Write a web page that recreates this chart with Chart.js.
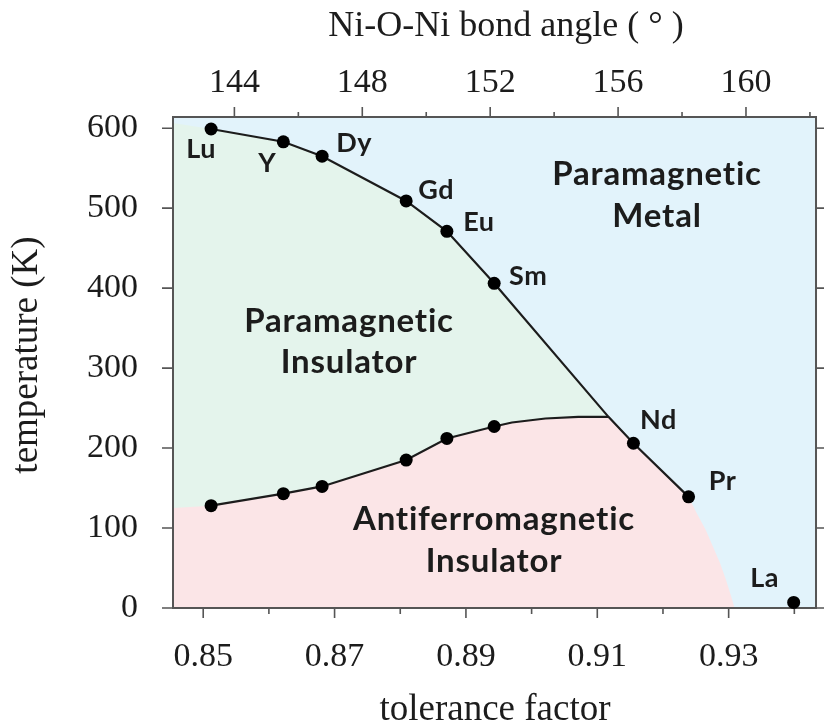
<!DOCTYPE html>
<html>
<head>
<meta charset="utf-8">
<script src="https://cdn.jsdelivr.net/npm/chart.js@4"></script>
<style>
  html, body { margin: 0; padding: 0; background: #ffffff; overflow: hidden; }
  #wrap { width: 824px; height: 725px; position: relative; }
</style>
</head>
<body>
<div id="wrap"><canvas id="c"></canvas></div>
<script>
// ---- data ----
const compounds   = ['Lu', 'Y', 'Dy', 'Gd', 'Eu', 'Sm', 'Nd', 'Pr', 'La'];
const tolerance   = [0.8512, 0.8622, 0.8681, 0.8809, 0.8871, 0.8943, 0.9155, 0.9239, 0.9399];
const tMI         = [599, 583, 565, 509, 471, 406, 206, 139, 7];      // metal-insulator transition
const tN          = [128, 143, 152, 185, 212, 227];                   // Neel temperature (Lu..Sm)
const crossTol    = 0.9117;  const crossT = 239;                      // where T_N meets T_MI
const neelTailTol = [0.8970, 0.9021, 0.9071];
const neelTailT   = [232, 237, 239];
const afiEdgeTol  = [0.9251, 0.9265, 0.9276, 0.9287, 0.9296, 0.9304, 0.9309];
const afiEdgeT    = [119, 98, 77, 56, 35, 14, 0];
const edgeTol     = 0.845;   const edgeUpperT = 607;  const edgeLowerT = 125;
const tolTicks    = [0.85, 0.87, 0.89, 0.91, 0.93];
const angleTicks  = [144, 148, 152, 156, 160];
const tempTicks   = [0, 100, 200, 300, 400, 500, 600];

// ---- styles ----
const SERIF = '"Liberation Serif", "Times New Roman", serif';
const SANS  = 'Lato, "Open Sans", sans-serif';
const BLUE  = 'rgb(226,243,251)';
const GREEN = 'rgb(228,244,236)';
const PINK  = 'rgb(251,229,231)';
const INK   = '#1c1c1c';
const FRAME = '#555555';

// ---- build series ----
const upperLine = [];
for (let i = 0; i <= 5; i++) upperLine.push({x: tolerance[i], y: tMI[i]});
upperLine.push({x: crossTol, y: crossT});
for (let i = 6; i <= 7; i++) upperLine.push({x: tolerance[i], y: tMI[i]});
const upperRadii = upperLine.map(p => (p.x === crossTol ? 0 : 6.5));

const lowerLine = [];
for (let i = 0; i < tN.length; i++) lowerLine.push({x: tolerance[i], y: tN[i]});
neelTailTol.forEach((t, i) => lowerLine.push({x: t, y: neelTailT[i]}));
lowerLine.push({x: crossTol, y: crossT});
const lowerRadii = lowerLine.map((p, i) => (i < tN.length ? 6.5 : 0));

const greenFill = [{x: edgeTol, y: edgeUpperT}];
for (let i = 0; i <= 5; i++) greenFill.push({x: tolerance[i], y: tMI[i]});
greenFill.push({x: crossTol, y: crossT});

const pinkFill = [{x: edgeTol, y: edgeLowerT}];
for (let i = 0; i < tN.length; i++) pinkFill.push({x: tolerance[i], y: tN[i]});
neelTailTol.forEach((t, i) => pinkFill.push({x: t, y: neelTailT[i]}));
pinkFill.push({x: crossTol, y: crossT});
for (let i = 6; i <= 7; i++) pinkFill.push({x: tolerance[i], y: tMI[i]});
afiEdgeTol.forEach((t, i) => pinkFill.push({x: t, y: afiEdgeT[i]}));

const laPoint = [{x: tolerance[8], y: tMI[8]}];

// ---- decorations ----
const labelOffsets = [[-10, 29], [-16, 30], [32, -4], [30, -2], [32, 0], [34, 2], [25, -14], [34, -7], [-29, -15]];

function spaced(ctx, px) { if ('letterSpacing' in ctx) ctx.letterSpacing = px + 'px'; }

const decor = {
  id: 'decor',
  beforeDraw(chart) {
    const {ctx, chartArea: a} = chart;
    ctx.save();
    ctx.fillStyle = BLUE;
    ctx.fillRect(a.left, a.top, a.right - a.left, a.bottom - a.top);
    ctx.restore();
  },
  beforeDatasetsDraw(chart) {
    const {ctx, chartArea: a, scales} = chart;
    ctx.save();
    ctx.strokeStyle = FRAME;
    ctx.lineWidth = 1.6;
    ctx.beginPath();
    const isMajor = t => t.label !== '' && t.label !== undefined;
    scales.x.ticks.forEach(t => {
      const px = scales.x.getPixelForValue(t.value);
      const len = isMajor(t) ? 10 : 6;
      ctx.moveTo(px, a.bottom); ctx.lineTo(px, a.bottom + len);
    });
    scales.x2.ticks.forEach(t => {
      const px = scales.x2.getPixelForValue(t.value);
      const len = isMajor(t) ? 10 : 5;
      ctx.moveTo(px, a.top); ctx.lineTo(px, a.top - len);
    });
    scales.y.ticks.forEach(t => {
      const py = scales.y.getPixelForValue(t.value);
      ctx.moveTo(a.left, py); ctx.lineTo(a.left - 11, py);
      ctx.moveTo(a.right, py); ctx.lineTo(a.right + 10, py);
    });
    ctx.stroke();
    ctx.lineWidth = 2;
    ctx.strokeRect(a.left, a.top, a.right - a.left, a.bottom - a.top);
    ctx.restore();
  },
  afterDatasetsDraw(chart) {
    const {ctx, scales} = chart;
    ctx.save();
    ctx.fillStyle = INK;
    // compound labels
    ctx.font = 'bold 27px ' + SANS;
    ctx.textAlign = 'center';
    ctx.textBaseline = 'alphabetic';
    spaced(ctx, 0.5);
    compounds.forEach((c, i) => {
      const px = scales.x.getPixelForValue(tolerance[i]);
      const py = scales.y.getPixelForValue(tMI[i]);
      ctx.fillText(c, px + labelOffsets[i][0], py + labelOffsets[i][1]);
    });
    // region labels
    ctx.font = 'bold 33px ' + SANS;
    spaced(ctx, 0.8);
    ctx.fillText('Paramagnetic', 657, 185);
    ctx.fillText('Metal', 657, 227);
    ctx.fillText('Paramagnetic', 349, 332);
    ctx.fillText('Insulator', 349, 373);
    ctx.fillText('Antiferromagnetic', 494, 530);
    ctx.fillText('Insulator', 494, 572);
    spaced(ctx, 0);
    // axis titles
    ctx.font = '36px ' + SERIF;
    ctx.textBaseline = 'middle';
    ctx.fillText('Ni-O-Ni bond angle ( \u00B0 )', 506, 27);
    ctx.textBaseline = 'alphabetic';
    ctx.font = '37px ' + SERIF;
    ctx.fillText('tolerance factor', 495, 720);
    ctx.translate(37, 355);
    ctx.rotate(-Math.PI / 2);
    ctx.fillText('temperature (K)', 0, 0);
    ctx.restore();
  }
};

const tickFont = {family: SERIF, size: 34};

new Chart(document.getElementById('c'), {
  type: 'line',
  data: {
    datasets: [
      { data: upperLine, xAxisID: 'x', yAxisID: 'y', borderColor: INK, borderWidth: 2.2, tension: 0,
        pointRadius: upperRadii, pointBackgroundColor: '#000', pointBorderWidth: 0, fill: false, clip: false },
      { data: lowerLine, xAxisID: 'x', yAxisID: 'y', borderColor: INK, borderWidth: 2.2, tension: 0,
        pointRadius: lowerRadii, pointBackgroundColor: '#000', pointBorderWidth: 0, fill: false },
      { data: laPoint, xAxisID: 'x', yAxisID: 'y', showLine: false, pointRadius: 6.5,
        pointBackgroundColor: '#000', pointBorderWidth: 0, fill: false, clip: false },
      { data: pinkFill, xAxisID: 'x', yAxisID: 'y', borderWidth: 0, borderColor: 'rgba(0,0,0,0)', pointRadius: 0,
        tension: 0, fill: 'origin', backgroundColor: PINK },
      { data: greenFill, xAxisID: 'x', yAxisID: 'y', borderWidth: 0, borderColor: 'rgba(0,0,0,0)', pointRadius: 0,
        tension: 0, fill: 'origin', backgroundColor: GREEN }
    ]
  },
  options: {
    responsive: true,
    maintainAspectRatio: false,
    animation: false,
    events: [],
    layout: { padding: { left: 0, right: 7, top: 0, bottom: 0 } },
    plugins: {
      legend: { display: false },
      tooltip: { enabled: false },
      filler: { drawTime: 'beforeDatasetsDraw' }
    },
    scales: {
      x: {
        type: 'linear', position: 'bottom', min: 0.8454, max: 0.9433,
        afterFit(s) { s.height = 117; },
        grid: { display: false, drawTicks: false }, border: { display: false },
        ticks: {
          stepSize: 0.01, includeBounds: false, autoSkip: false, maxRotation: 0, minRotation: 0,
          padding: 29, font: tickFont, color: INK,
          callback(v) { const m = tolTicks.find(t => Math.abs(t - v) < 1e-6); return m === undefined ? '' : m.toFixed(2); }
        }
      },
      x2: {
        type: 'linear', position: 'top', min: 142.08, max: 162.19,
        afterFit(s) { s.height = 117; },
        grid: { display: false, drawTicks: false }, border: { display: false },
        ticks: {
          stepSize: 2, includeBounds: false, autoSkip: false, maxRotation: 0, minRotation: 0,
          padding: 14, font: tickFont, color: INK,
          callback(v) { const m = angleTicks.find(t => Math.abs(t - v) < 1e-6); return m === undefined ? '' : String(m); }
        }
      },
      y: {
        type: 'linear', position: 'left', min: 0, max: 614,
        afterFit(s) { s.width = 173; },
        grid: { display: false, drawTicks: false }, border: { display: false },
        ticks: {
          stepSize: 100, includeBounds: false, autoSkip: false,
          padding: 35, font: tickFont, color: INK,
          callback(v) { const m = tempTicks.find(t => Math.abs(t - v) < 1e-6); return m === undefined ? '' : String(m); }
        }
      }
    }
  },
  plugins: [decor]
});
</script>
</body>
</html>
